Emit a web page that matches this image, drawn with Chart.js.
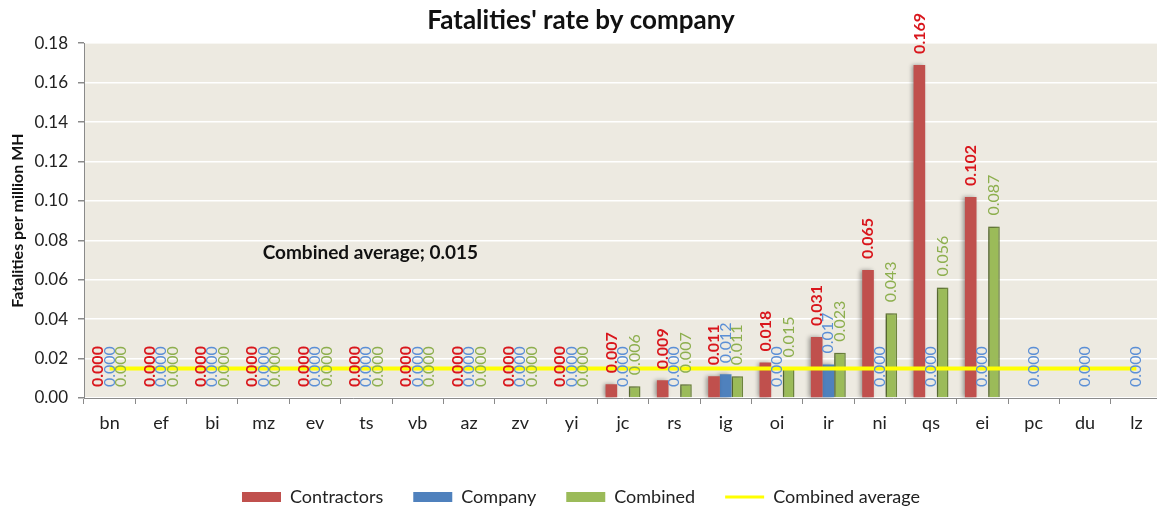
<!DOCTYPE html>
<html>
<head>
<meta charset="utf-8">
<script src="https://cdn.jsdelivr.net/npm/chart.js@4.4.1/dist/chart.umd.min.js"></script>
<style>
  html, body { margin: 0; padding: 0; background: #fff; overflow: hidden; }
  #wrap { width: 1184px; height: 516px; position: relative; }
</style>
</head>
<body>
<div id="wrap"><canvas id="chart"></canvas></div>
<script>
const companies = ["bn", "ef", "bi", "mz", "ev", "ts", "vb", "az", "zv", "yi", "jc", "rs", "ig", "oi", "ir", "ni", "qs", "ei", "pc", "du", "lz"];
const contractors = [0, 0, 0, 0, 0, 0, 0, 0, 0, 0, 0.007, 0.009, 0.011, 0.018, 0.031, 0.065, 0.169, 0.102, null, null, null];
const company = [0, 0, 0, 0, 0, 0, 0, 0, 0, 0, 0, 0, 0.012, 0, 0.017, 0, 0, 0, 0, 0, 0];
const combined = [0, 0, 0, 0, 0, 0, 0, 0, 0, 0, 0.006, 0.007, 0.011, 0.015, 0.023, 0.043, 0.056, 0.087, null, null, null];
const combinedAvg = 0.015;
const avgLine = companies.map(() => combinedAvg);

const FONT = "Lato, 'Open Sans', sans-serif";
const labelColors = ["#D9161C", "#5B8FD6", "#8DAF4E"];

// beige plot area
const plotBg = {
    id: "plotBg",
    beforeDraw(chart) {
        const { ctx, chartArea: a } = chart;
        ctx.save();
        ctx.fillStyle = "#EDEAE1";
        ctx.fillRect(a.left, a.top, a.right - a.left, a.bottom - a.top);
        ctx.restore();
    }
};

// soft shadow behind bars like the Excel original
const barShadow = {
    id: "barShadow",
    beforeDatasetDraw(chart, args) {
        if (args.meta.type !== "bar") return;
        const ctx = chart.ctx;
        ctx.save();
        ctx.shadowColor = "rgba(0,0,0,0.35)";
        ctx.shadowBlur = 4;
        ctx.shadowOffsetX = -2;
        ctx.shadowOffsetY = 0;
    },
    afterDatasetDraw(chart, args) {
        if (args.meta.type !== "bar") return;
        chart.ctx.restore();
    }
};

// rotated value labels + average annotation
const valueLabels = {
    id: "valueLabels",
    afterDatasetsDraw(chart) {
        const ctx = chart.ctx;
        [0, 1, 2].forEach(di => {
            const meta = chart.getDatasetMeta(di);
            const vals = chart.data.datasets[di].data;
            ctx.save();
            ctx.fillStyle = labelColors[di];
            ctx.font = (di === 0 ? "bold " : "") + "16px " + FONT;
            ctx.textAlign = "left";
            ctx.textBaseline = "middle";
            meta.data.forEach((el, i) => {
                if (vals[i] === null) return;
                ctx.save();
                ctx.translate(el.x, el.y - 11);
                ctx.rotate(-Math.PI / 2);
                ctx.fillText(vals[i].toFixed(3), 0, 0);
                ctx.restore();
            });
            ctx.restore();
        });
        const x = chart.scales.x, y = chart.scales.y;
        ctx.save();
        ctx.fillStyle = "#111";
        ctx.font = "bold 19px " + FONT;
        ctx.textAlign = "left";
        ctx.textBaseline = "middle";
        ctx.fillText("Combined average; " + combinedAvg.toFixed(3), x.getPixelForValue(3) - 1, y.getPixelForValue(0.0735));
        ctx.restore();
    }
};

new Chart(document.getElementById("chart"), {
    type: "bar",
    data: {
        labels: companies,
        datasets: [
            { label: "Contractors", data: contractors, backgroundColor: "#C0504D", categoryPercentage: 0.68, barPercentage: 1.0, order: 0 },
            { label: "Company", data: company, backgroundColor: "#4F81BD", categoryPercentage: 0.68, barPercentage: 1.0, order: 0 },
            { label: "Combined", data: combined, backgroundColor: "#9BBB59", borderColor: "#71893F", borderWidth: 1.5, categoryPercentage: 0.68, barPercentage: 1.0, order: 0 },
            { type: "line", label: "Combined average", data: avgLine, borderColor: "#FFFF00", backgroundColor: "#FFFF00", borderWidth: 4, pointRadius: 0, order: -1 }
        ]
    },
    options: {
        responsive: true,
        maintainAspectRatio: false,
        animation: false,
        layout: { padding: { left: 0, right: 22, top: 0, bottom: 0 } },
        plugins: {
            title: {
                display: true,
                text: "Fatalities' rate by company",
                color: "#111",
                font: { family: FONT, size: 26, weight: "bold" },
                padding: { top: 5, bottom: 7 }
            },
            legend: {
                position: "bottom",
                labels: {
                    color: "#222",
                    font: { family: FONT, size: 18 },
                    usePointStyle: true,
                    pointStyleWidth: 39,
                    boxHeight: 10,
                    padding: 30,
                    sort: (a, b) => a.datasetIndex - b.datasetIndex,
                    generateLabels(chart) {
                        const items = Chart.defaults.plugins.legend.labels.generateLabels(chart);
                        items.forEach(it => {
                            if (it.datasetIndex === 3) {
                                it.pointStyle = "line";
                                it.strokeStyle = "#FFFF00";
                                it.lineWidth = 3;
                            } else {
                                it.pointStyle = "rect";
                                it.lineWidth = 0;
                                it.strokeStyle = it.fillStyle;
                            }
                        });
                        return items;
                    }
                }
            },
            tooltip: { enabled: false }
        },
        scales: {
            x: {
                afterFit: s => { s.height = 60; },
                grid: { display: true, drawOnChartArea: false, color: "#8A8A8A", tickLength: 6 },
                border: { color: "#8A8A8A" },
                ticks: { color: "#222", font: { family: FONT, size: 18 }, padding: 8 }
            },
            y: {
                min: 0,
                max: 0.18,
                afterFit: s => { s.width = 84; },
                ticks: { stepSize: 0.02, color: "#222", font: { family: FONT, size: 17 }, padding: 10, callback: v => v.toFixed(2) },
                grid: { color: "#FFFFFF", lineWidth: 1.5, tickColor: "#8A8A8A", tickLength: 6 },
                border: { color: "#8A8A8A" },
                title: { display: true, text: "Fatalities per million MH", color: "#111", font: { family: FONT, size: 16, weight: "bold" }, padding: { top: 8, bottom: 4 } }
            }
        }
    },
    plugins: [plotBg, barShadow, valueLabels]
});
</script>
</body>
</html>
